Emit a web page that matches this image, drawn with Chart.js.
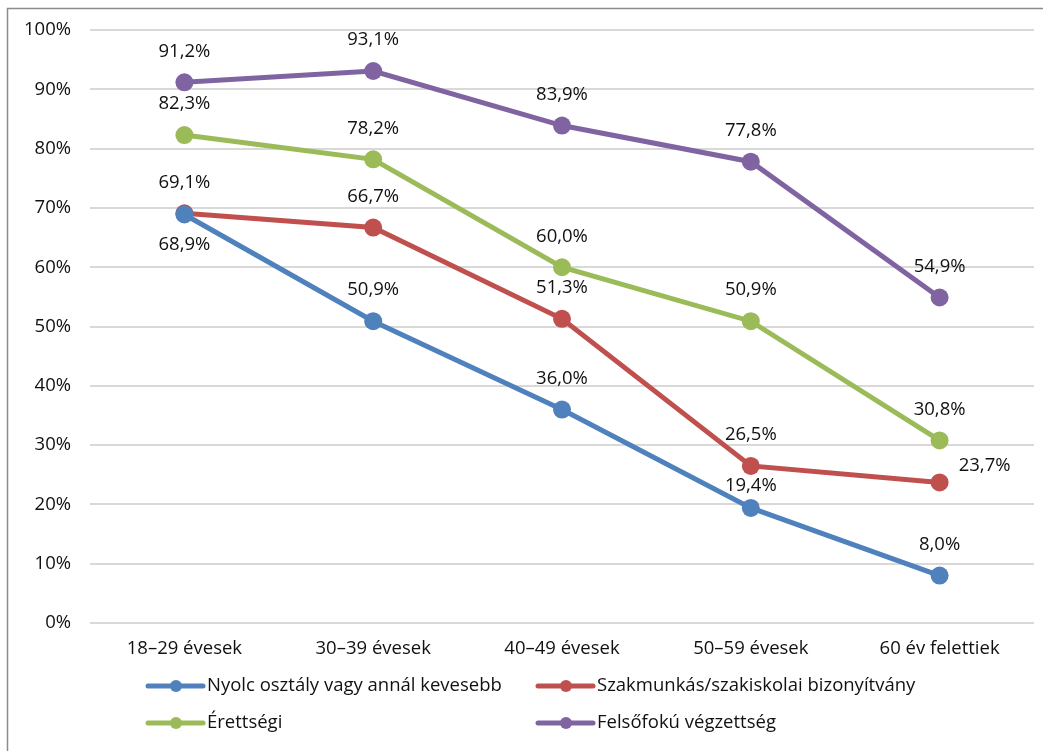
<!DOCTYPE html>
<html>
<head>
<meta charset="utf-8">
<script src="https://cdn.jsdelivr.net/npm/chart.js@4"></script>
<style>
  html, body { margin: 0; padding: 0; background: #fff; }
  #wrap { width: 1043px; height: 751px; }
</style>
</head>
<body>
<div id="wrap"><canvas id="myChart" width="1043" height="751"></canvas></div>
<script>
const ctx = document.getElementById("myChart").getContext("2d");

const categories = ["18–29 évesek", "30–39 évesek", "40–49 évesek", "50–59 évesek", "60 év felettiek"];
const seriesNames = [
  "Nyolc osztály vagy annál kevesebb",
  "Szakmunkás/szakiskolai bizonyítvány",
  "Érettségi",
  "Felsőfokú végzettség",
];
const nyolcOsztaly = [68.9, 50.9, 36.0, 19.4, 8.0];
const szakmunkas = [69.1, 66.7, 51.3, 26.5, 23.7];
const erettsegi = [82.3, 78.2, 60.0, 50.9, 30.8];
const felsofoku = [91.2, 93.1, 83.9, 77.8, 54.9];
const yTicks = [0, 10, 20, 30, 40, 50, 60, 70, 80, 90, 100];

const colors = ["#4F81BD", "#C0504D", "#9BBB59", "#8064A2"];
const FONT = "'Open Sans', sans-serif";
const FS = 18.5;

function makeSet(label, values, color) {
  return {
    label: label,
    data: values,
    borderColor: color,
    backgroundColor: color,
    pointBackgroundColor: color,
    pointBorderColor: color,
    borderWidth: 5,
    pointRadius: 9,
    pointBorderWidth: 0,
    tension: 0,
  };
}

const datasets = [
  makeSet(seriesNames[0], nyolcOsztaly, colors[0]),
  makeSet(seriesNames[1], szakmunkas, colors[1]),
  makeSet(seriesNames[2], erettsegi, colors[2]),
  makeSet(seriesNames[3], felsofoku, colors[3]),
];

// white background + outer frame
const framePlugin = {
  id: "frame",
  beforeDraw(chart) {
    const c = chart.ctx;
    c.save();
    c.fillStyle = "#fff";
    c.fillRect(0, 0, chart.width, chart.height);
    c.strokeStyle = "#8c8c8c";
    c.lineWidth = 1.5;
    c.strokeRect(7.5, 8.5, chart.width + 20, chart.height + 20);
    c.restore();
  },
};

// value labels over each point
const labelPlugin = {
  id: "valueLabels",
  afterDatasetsDraw(chart) {
    const c = chart.ctx;
    c.save();
    c.font = FS + "px " + FONT;
    c.fillStyle = "#111";
    c.textAlign = "center";
    c.textBaseline = "middle";
    chart.data.datasets.forEach((ds, di) => {
      const meta = chart.getDatasetMeta(di);
      meta.data.forEach((pt, i) => {
        const txt = ds.data[i].toFixed(1).replace(".", ",") + "%";
        let x = pt.x, y = pt.y - 31;
        if (di === 0 && i === 0) y = pt.y + 30;      // below
        if (di === 0 && i === 3) y = pt.y - 22;
        if (di === 1 && i === 4) { x = pt.x + 45; y = pt.y - 17; }
        c.fillText(txt, x, y);
      });
    });
    c.restore();
  },
};

// two-column legend at the bottom
const legendPlugin = {
  id: "gridLegend",
  afterDraw(chart) {
    const c = chart.ctx;
    const cols = [148, 538];
    const rows = [686, 723];
    c.save();
    c.font = FS + "px " + FONT;
    c.textBaseline = "middle";
    c.textAlign = "left";
    chart.data.datasets.forEach((ds, i) => {
      const x = cols[i % 2];
      const y = rows[Math.floor(i / 2)];
      c.strokeStyle = ds.borderColor;
      c.lineWidth = 5;
      c.lineCap = "round";
      c.beginPath();
      c.moveTo(x, y);
      c.lineTo(x + 55, y);
      c.stroke();
      c.fillStyle = ds.borderColor;
      c.beginPath();
      c.arc(x + 28, y, 6, 0, Math.PI * 2);
      c.fill();
      c.fillStyle = "#111";
      c.fillText(ds.label, x + 59, y);
    });
    c.restore();
  },
};

const config = {
  type: "line",
  data: { labels: categories, datasets: datasets },
  options: {
    responsive: false,
    animation: false,
    events: [],
    layout: { padding: { left: 8, right: 8, top: 30, bottom: 90 } },
    plugins: {
      legend: { display: false },
      tooltip: { enabled: false },
    },
    scales: {
      x: {
        offset: true,
        grid: { display: false, drawTicks: false, offset: true },
        border: { display: false },
        ticks: { color: "#111", font: { family: FONT, size: FS }, padding: 15 },
        afterFit(scale) { scale.height = 38; },
      },
      y: {
        min: 0,
        max: 100,
        afterBuildTicks(scale) { scale.ticks = yTicks.map((v) => ({ value: v })); },
        grid: { color: "#d9d9d9", lineWidth: 2, drawTicks: false },
        border: { display: false },
        ticks: {
          color: "#111",
          font: { family: FONT, size: FS },
          padding: 19,
          callback: (v) => v + "%",
        },
        afterFit(scale) { scale.width = 82; },
      },
    },
  },
  plugins: [framePlugin, labelPlugin, legendPlugin],
};

const myChart = new Chart(ctx, config);
</script>
</body>
</html>
